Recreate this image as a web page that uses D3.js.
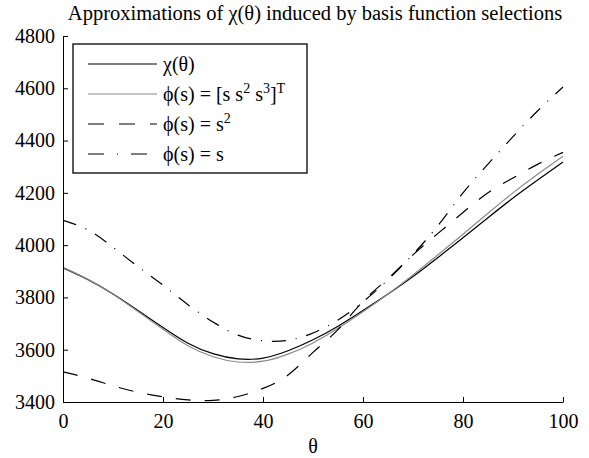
<!DOCTYPE html>
<html>
<head>
<meta charset="utf-8">
<script src="https://cdn.jsdelivr.net/npm/d3@7"></script>
<style>
  body { margin: 0; background: #fff; }
</style>
</head>
<body>
<div id="chart"></div>
<script>
// values
const theta = [0, 5, 10, 15, 20, 25, 30, 35, 40, 45, 50, 55, 60, 65, 70, 75, 80, 85, 90, 95, 100]
const chi = [3913, 3868, 3813, 3750, 3685, 3625, 3585, 3565, 3568, 3596, 3638, 3690, 3750, 3813, 3880, 3953, 4028, 4105, 4180, 4250, 4318]
const cubic = [3915, 3869, 3812, 3746, 3678, 3615, 3573, 3553, 3556, 3583, 3626, 3682, 3745, 3813, 3886, 3963, 4042, 4122, 4200, 4272, 4340]
const square = [3515, 3491, 3462, 3437, 3420, 3408, 3406, 3421, 3452, 3503, 3590, 3677, 3785, 3872, 3963, 4045, 4125, 4200, 4257, 4310, 4355]
const linear = [4095, 4058, 3992, 3918, 3847, 3772, 3706, 3656, 3634, 3636, 3664, 3714, 3783, 3868, 3965, 4075, 4200, 4310, 4415, 4515, 4605]

const xTicks = [0, 20, 40, 60, 80, 100]
const yTicks = [3400, 3600, 3800, 4000, 4200, 4400, 4600, 4800]

const width = 589
const height = 458
const serif = "Liberation Serif"

const xScale = d3.scaleLinear().domain([0, 100]).range([63, 563])
const yScale = d3.scaleLinear().domain([3400, 4800]).range([402, 36])

const svg = d3.select("#chart")
  .append("svg")
  .attr("width", width)
  .attr("height", height)
  .attr("font-family", serif)

// colour, dash in plot, dash in legend
const series = [
  { values: chi, color: "#000", dash: null, legendDash: null },
  { values: cubic, color: "#8c8c8c", dash: null, legendDash: null },
  { values: square, color: "#000", dash: "15,14", legendDash: "16,15" },
  { values: linear, color: "#000", dash: "14,10,1,10", legendDash: "16,13,1,13" }
]

const line = d3.line()
  .x((d, i) => xScale(theta[i]))
  .y(d => yScale(d))
  .curve(d3.curveNatural)

svg.selectAll("path.curve")
  .data(series)
  .join("path")
  .attr("class", "curve")
  .attr("d", d => line(d.values))
  .attr("fill", "none")
  .attr("stroke", d => d.color)
  .attr("stroke-width", 1.2)
  .attr("stroke-dasharray", d => d.dash)

// axes, ticks pointing inward
const xAxis = d3.axisBottom(xScale).tickValues(xTicks).tickFormat(d3.format("d"))
  .tickSize(-5).tickSizeOuter(0).tickPadding(12)
const yAxis = d3.axisLeft(yScale).tickValues(yTicks).tickFormat(d3.format("d"))
  .tickSize(-5).tickSizeOuter(0).tickPadding(8)

svg.append("g")
  .attr("transform", "translate(0, 402)")
  .call(xAxis)
  .attr("font-size", 20)
  .attr("font-family", serif)

svg.append("g")
  .attr("transform", "translate(63, 0)")
  .call(yAxis)
  .attr("font-size", 20)
  .attr("font-family", serif)

svg.selectAll(".domain, .tick line").attr("stroke", "#000").attr("stroke-width", 1)
svg.selectAll(".tick text").attr("fill", "#000")

// title and x label
svg.append("text")
  .attr("x", 315)
  .attr("y", 20)
  .attr("text-anchor", "middle")
  .attr("font-size", 20.5)
  .text("Approximations of χ(θ) induced by basis function selections")

svg.append("text")
  .attr("x", 313)
  .attr("y", 453)
  .attr("text-anchor", "middle")
  .attr("font-size", 20)
  .text("θ")

// legend
const legend = svg.append("g")
legend.append("rect")
  .attr("x", 73).attr("y", 44)
  .attr("width", 234).attr("height", 129)
  .attr("fill", "#fff")
  .attr("stroke", "#000")
  .attr("stroke-width", 1.3)

const labels = [
  [["χ(θ)", false]],
  [["ϕ(s) = [s s", false], ["2", true], [" s", false], ["3", true], ["]", false], ["T", true]],
  [["ϕ(s) = s", false], ["2", true]],
  [["ϕ(s) = s", false]]
]

const rowY = i => 64 + i * 30

legend.selectAll("line")
  .data(series)
  .join("line")
  .attr("x1", 88).attr("x2", 157)
  .attr("y1", (d, i) => rowY(i)).attr("y2", (d, i) => rowY(i))
  .attr("stroke", d => d.color)
  .attr("stroke-width", 1.2)
  .attr("stroke-dasharray", d => d.legendDash)

labels.forEach((parts, i) => {
  const t = legend.append("text")
    .attr("x", 163)
    .attr("y", rowY(i) + 7)
    .attr("font-size", 20)
  parts.forEach(([s, sup]) => {
    t.append("tspan")
      .attr("font-size", sup ? 14 : 20)
      .attr("baseline-shift", sup ? "60%" : null)
      .text(s)
  })
})
</script>
</body>
</html>
